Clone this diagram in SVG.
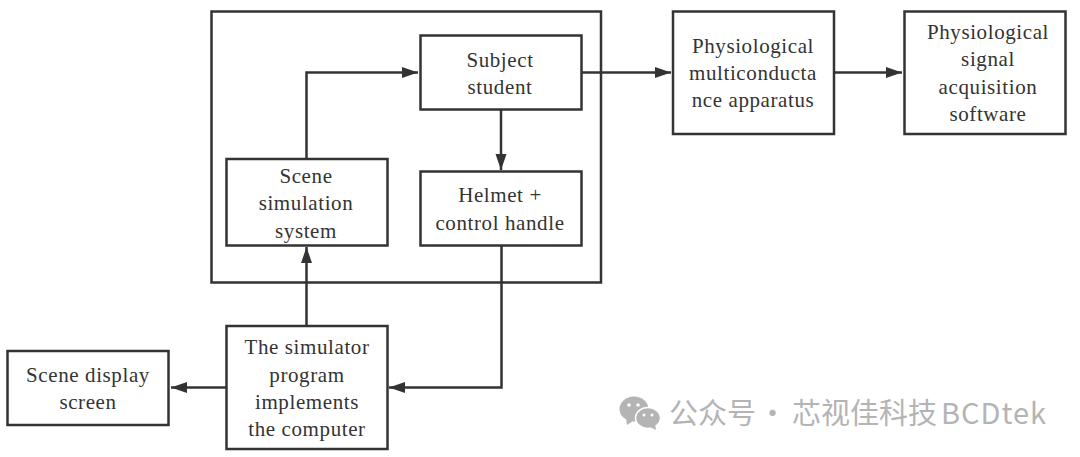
<svg xmlns="http://www.w3.org/2000/svg" width="1080" height="457" viewBox="0 0 1080 457">
<style>
.b{fill:none;stroke:#333;stroke-width:2.5}
.c{fill:none;stroke:#333;stroke-width:2.5}
text{font-family:"Liberation Serif","Times New Roman",serif;font-size:21px;fill:#333;text-anchor:middle;letter-spacing:.6px}
.w{font-family:"Noto Sans CJK SC","Noto Sans",sans-serif;font-size:29px;fill:#b4b4b4;text-anchor:start;letter-spacing:0}
.l{letter-spacing:1px}
</style>
<defs><marker id="a" markerUnits="userSpaceOnUse" markerWidth="18" markerHeight="12" refX="16" refY="6" orient="auto"><path d="M0 0.5L16 6L0 11.500z" fill="#333"/></marker></defs>
<rect width="1080" height="457" fill="#fff"/>
<g id="system"><rect class="b" x="211.500" y="11.500" width="389.500" height="271"/></g>
<g id="subject"><rect class="b" x="420.500" y="35.500" width="161" height="74"/><text x="500" y="67">Subject</text><text x="500" y="94">student</text></g>
<g id="helmet"><rect class="b" x="420.500" y="171.500" width="161" height="74"/><text x="500" y="202">Helmet +</text><text x="500" y="230">control handle</text></g>
<g id="scene"><rect class="b" x="226.500" y="159" width="161" height="86.500"/><text x="306" y="183">Scene</text><text x="306" y="210">simulation</text><text x="306" y="238">system</text></g>
<g id="apparatus"><rect class="b" x="673" y="11.500" width="161" height="122.500"/><text x="753" y="53">Physiological</text><text x="753" y="80">multiconducta</text><text x="753" y="107">nce apparatus</text></g>
<g id="software"><rect class="b" x="904.500" y="11.500" width="161" height="122.500"/><text x="988" y="39">Physiological</text><text x="988" y="66">signal</text><text x="988" y="94">acquisition</text><text x="988" y="121">software</text></g>
<g id="computer"><rect class="b" x="226.500" y="326" width="161" height="123"/><text x="307" y="354">The simulator</text><text x="307" y="382">program</text><text x="307" y="409">implements</text><text x="307" y="436">the computer</text></g>
<g id="display"><rect class="b" x="7.500" y="351" width="161" height="74"/><text x="88" y="382">Scene display</text><text x="88" y="409">screen</text></g>
<g id="connectors">
<path class="c" d="M306.500 159V72.500H418" marker-end="url(#a)"/>
<path class="c" d="M501 109.500V170" marker-end="url(#a)"/>
<path class="c" d="M582 72.500H671" marker-end="url(#a)"/>
<path class="c" d="M834 72.500H902" marker-end="url(#a)"/>
<path class="c" d="M306.500 326V247" marker-end="url(#a)"/>
<path class="c" d="M501.500 245.500V387.500H389" marker-end="url(#a)"/>
<path class="c" d="M226.500 387.500H171" marker-end="url(#a)"/>
</g>
<g id="watermark">
<ellipse cx="634" cy="409" rx="14.500" ry="12.500" fill="#b4b4b4"/><path d="M626 418l1 7 6-4z" fill="#b4b4b4"/>
<ellipse cx="648" cy="418" rx="12.500" ry="10.500" fill="#b4b4b4" stroke="#fff" stroke-width="1.500"/><path d="M650 427l6 3-1-6z" fill="#b4b4b4"/>
<circle cx="629" cy="405" r="1.800" fill="#fff"/><circle cx="638" cy="405" r="1.800" fill="#fff"/><circle cx="644" cy="415" r="1.500" fill="#fff"/><circle cx="652" cy="415" r="1.500" fill="#fff"/>
<text class="w" x="669" y="424">公众号<tspan x="758">·</tspan><tspan x="792">芯视佳科技</tspan><tspan class="l" x="941">BCDtek</tspan></text>
</g>
</svg>
